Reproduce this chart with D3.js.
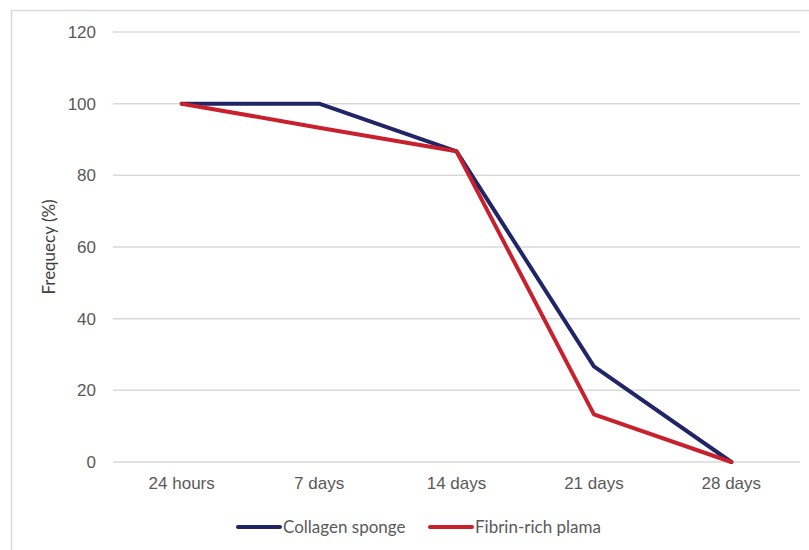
<!DOCTYPE html>
<html>
<head>
<meta charset="utf-8">
<script src="https://cdn.jsdelivr.net/npm/d3@7"></script>
<style>
  body { margin: 0; background: #fff; }
  svg { display: block; font-family: Lato, "Open Sans", sans-serif; }
</style>
</head>
<body>
<div id="chart"></div>
<script>
const width = 809;
const height = 550;

// dados
const categories = ["24 hours", "7 days", "14 days", "21 days", "28 days"];
const collagen = [100, 100, 86.7, 26.7, 0];
const fibrin = [100, 93.3, 86.7, 13.3, 0];
const yTicks = [0, 20, 40, 60, 80, 100, 120];

const series = [
    { name: "Collagen sponge", values: collagen, color: "#1f2566" },
    { name: "Fibrin-rich plama", values: fibrin, color: "#c8202c" }
];

const margin = { top: 32, right: 9, bottom: 88, left: 113 };

const svg = d3.select("#chart")
    .append("svg")
    .attr("width", width)
    .attr("height", height);

// moldura do gráfico (sai pela direita e por baixo)
svg.append("rect")
    .attr("x", 11.5).attr("y", 10.5)
    .attr("width", width + 20).attr("height", height + 20)
    .attr("fill", "none")
    .attr("stroke", "#d9d9d9")
    .attr("stroke-width", 1.5);

const x = d3.scaleBand()
    .domain(categories)
    .range([margin.left, width - margin.right]);

const y = d3.scaleLinear()
    .domain([0, 120])
    .range([height - margin.bottom, margin.top]);

// grade horizontal
svg.append("g")
    .selectAll("line")
    .data(yTicks)
    .join("line")
    .attr("x1", margin.left)
    .attr("x2", width - margin.right)
    .attr("y1", d => y(d))
    .attr("y2", d => y(d))
    .attr("stroke", "#d9d9d9")
    .attr("stroke-width", 1.5);

// eixo y
const yAxis = svg.append("g")
    .attr("transform", `translate(${margin.left},0)`)
    .call(d3.axisLeft(y).tickValues(yTicks).tickSize(0).tickPadding(17));
yAxis.select(".domain").remove();
yAxis.selectAll("text")
    .attr("fill", "#595959")
    .style("font-size", "17px");

// eixo x
const xAxis = svg.append("g")
    .attr("transform", `translate(0,${height - margin.bottom})`)
    .call(d3.axisBottom(x).tickSize(0).tickPadding(15));
xAxis.select(".domain").remove();
xAxis.selectAll("text")
    .attr("fill", "#595959")
    .style("font-size", "17px");

// título do eixo y
svg.append("text")
    .attr("transform", `translate(55,${y(60)}) rotate(-90)`)
    .attr("text-anchor", "middle")
    .attr("fill", "#404040")
    .style("font-size", "17px")
    .text("Frequecy (%)");

// linhas
const line = d3.line()
    .x((d, i) => x(categories[i]) + x.bandwidth() / 2)
    .y(d => y(d));

svg.append("g")
    .selectAll("path")
    .data(series)
    .join("path")
    .attr("d", d => line(d.values))
    .attr("fill", "none")
    .attr("stroke", d => d.color)
    .attr("stroke-width", 4)
    .attr("stroke-linejoin", "round")
    .attr("stroke-linecap", "round");

// legenda
const legendX = [238, 430];
const legend = svg.append("g")
    .selectAll("g")
    .data(series)
    .join("g")
    .attr("transform", (d, i) => `translate(${legendX[i]},527)`);

legend.append("line")
    .attr("x1", 0).attr("x2", 42)
    .attr("stroke", d => d.color)
    .attr("stroke-width", 4)
    .attr("stroke-linecap", "round");

legend.append("text")
    .attr("x", 45)
    .attr("dy", "0.35em")
    .attr("fill", "#595959")
    .style("font-size", "17px")
    .text(d => d.name);
</script>
</body>
</html>
